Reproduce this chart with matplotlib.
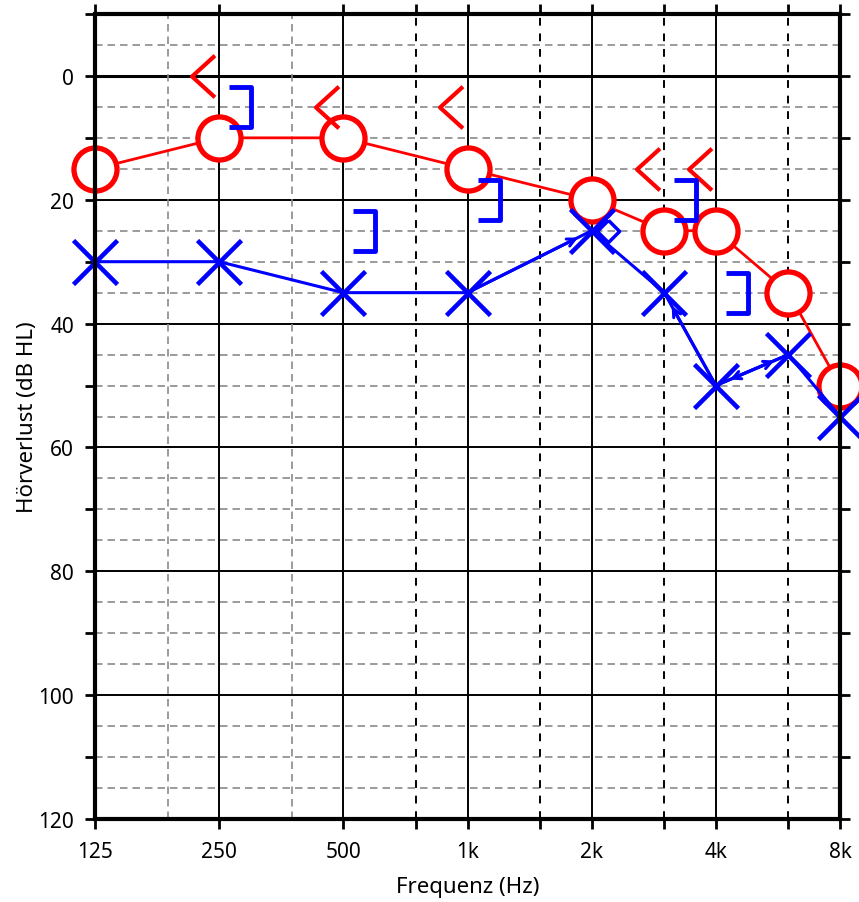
import matplotlib
matplotlib.use('Agg')
import matplotlib.pyplot as plt
from matplotlib.path import Path
from matplotlib.ticker import FixedLocator, NullFormatter

plt.rcParams['font.family'] = ['Noto Sans', 'DejaVu Sans']

# audiogram values (dB HL)
freqs = [125, 250, 500, 1000, 2000, 3000, 4000, 6000, 8000]
right_ac = [15, 10, 10, 15, 20, 25, 25, 35, 50]
left_ac = [30, 30, 35, 35, 25, 35, 50, 45, 55]

right_bc_freqs = [250, 500, 1000, 3000, 4000]
right_bc = [0, 5, 5, 15, 15]

left_bc_masked_freqs = [250, 500, 1000, 3000, 4000]
left_bc_masked = [5, 25, 20, 20, 35]

left_bc_freqs = [2000]
left_bc = [25]

octaves = [125, 250, 500, 1000, 2000, 4000, 8000]
octave_labels = ['125', '250', '500', '1k', '2k', '4k', '8k']
half_octaves = [750, 1500, 3000, 6000]
light_half_octaves = [187.5, 375]

# marker shapes
bc_left = Path([(0.55, 1), (-0.55, 0), (0.55, -1)])
bracket = Path([(-0.55, 1), (0.55, 1), (0.55, -1), (-0.55, -1)])
diamond = Path([(0, 1), (1, 0), (0, -1), (-1, 0), (0, 1)])

fig = plt.figure(figsize=(8.59, 9.03), dpi=100)
ax = fig.add_axes([95 / 859, 1 - 820 / 903, 745 / 859, 805 / 903])
ax.set_xscale('log', base=2)
ax.set_xlim(125, 8000)
ax.set_ylim(120, -10)

# grid
for d in range(-5, 120, 5):
    if d % 20 == 0:
        ax.axhline(d, color='black', lw=2.2 if d == 0 else 1.4, zorder=1)
    else:
        ax.axhline(d, color='#8a8a8a', lw=1.2, ls=(0, (4.5, 3)), zorder=1)
for f in octaves[1:-1]:
    ax.axvline(f, color='black', lw=1.4, zorder=1)
for f in half_octaves:
    ax.axvline(f, color='black', lw=1.4, ls=(0, (4, 4)), zorder=1)
for f in light_half_octaves:
    ax.axvline(f, color='#8a8a8a', lw=1.2, ls=(0, (4.5, 3)), zorder=1)

# offsets for bone conduction symbols
shift_l = 2 ** (-16 / 124)
shift_r = 2 ** (21 / 124)

ax.plot(freqs, right_ac, color='red', lw=2.0, marker='o', ms=31,
        mfc='white', mec='red', mew=3.8, zorder=4, clip_on=False)
ax.plot([f * shift_l for f in right_bc_freqs], right_bc, ls='none',
        marker=bc_left, ms=30, mfc='none', mec='red', mew=3, zorder=4)

ax.plot(freqs, left_ac, color='blue', lw=2.2, marker='x', ms=31,
        mec='blue', mew=3.3, zorder=5, clip_on=False)
ax.plot([f * shift_r for f in left_bc_masked_freqs], left_bc_masked, ls='none',
        marker=bracket, ms=29, mfc='none', mec='blue', mew=3.5, zorder=5)
ax.plot([f * 2 ** (16 / 124) for f in left_bc_freqs], left_bc, ls='none',
        marker=diamond, ms=16, mfc='none', mec='blue', mew=2.5, zorder=5)

# small arrow heads on some of the blue segments
arrows = [(3, 4), (6, 5), (6, 7), (7, 6)]
for a, b in arrows:
    ax.annotate('', xy=(freqs[b], left_ac[b]), xytext=(freqs[a], left_ac[a]),
                arrowprops=dict(arrowstyle='->', color='blue', lw=2.2,
                                shrinkA=0, shrinkB=11, mutation_scale=14),
                zorder=5)

# ticks
ax.set_xticks(octaves)
ax.set_xticklabels(octave_labels)
ax.xaxis.set_minor_locator(FixedLocator(half_octaves))
ax.xaxis.set_minor_formatter(NullFormatter())
ax.set_yticks(range(-10, 121, 10))
ax.set_yticklabels(['' if v % 20 or v < 0 else str(v) for v in range(-10, 121, 10)])
ax.tick_params(axis='both', which='both', direction='out', length=7, width=2,
               colors='black', labelsize=15, top=True, right=True)
ax.tick_params(axis='x', pad=9)
ax.tick_params(axis='y', pad=8)
for s in ax.spines.values():
    s.set_linewidth(3)
    s.set_zorder(6)

ax.set_xlabel('Frequenz (Hz)', fontsize=16, labelpad=10)
ax.set_ylabel('Hörverlust (dB HL)', fontsize=16, labelpad=0)

fig.savefig('out.png', dpi=100)
